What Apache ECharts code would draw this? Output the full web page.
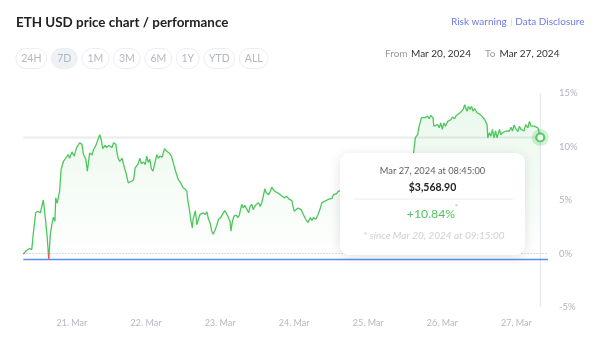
<!DOCTYPE html>
<html>
<head>
<meta charset="utf-8">
<script src="https://cdn.jsdelivr.net/npm/echarts@6/dist/echarts.min.js"></script>
<style>
html,body{margin:0;padding:0;background:#fff;}
#chart{width:606px;height:358px;}
</style>
</head>
<body>
<div id="chart"></div>
<script>
// ---- data ----
// hours since Mar 20, 2024 09:15 (local, UTC+1)
const hoursSinceStart = [
  0, 1, 2, 2.75, 3.25, 4, 4.75, 5.5, 6.5, 7.25,
  7.75, 8.25, 8.75, 9.25, 9.75, 10.25, 10.5, 11, 11.75, 12.25,
  13, 13.75, 14.5, 15, 15.75, 16.5, 17.25, 18.25, 19, 19.5,
  20.25, 20.75, 21.5, 22.25, 22.75, 23.5, 24, 24.75, 25.25, 25.75,
  26.5, 27, 27.75, 28.75, 29.25, 30, 30.25, 30.75, 31.25, 32,
  32.5, 33.25, 34, 34.5, 35, 35.75, 36.25, 36.75, 37.25, 37.75,
  38.25, 39, 39.5, 40, 40.5, 41, 41.5, 42, 42.75, 43.25,
  43.75, 44.25, 45, 45.75, 46.5, 47.25, 48, 48.75, 49.5, 50.25,
  51, 51.75, 52.5, 53, 53.25, 53.75, 54.25, 54.75, 55, 55.75,
  56.25, 56.75, 57.25, 57.75, 58.25, 59, 59.5, 60, 60.5, 61,
  61.5, 62, 62.75, 63.25, 64, 64.5, 65.25, 66, 66.5, 67,
  67.25, 67.75, 68.25, 69, 69.5, 70, 70.75, 71.25, 71.75, 72.5,
  73, 73.5, 74, 74.5, 75, 75.5, 76.25, 76.75, 77.25, 77.75,
  78.25, 78.75, 79.5, 80, 80.5, 81, 81.5, 82, 82.5, 83.25,
  83.75, 84.5, 85.25, 86.25, 87, 87.75, 88.25, 89, 90, 90.75,
  91.5, 92.25, 93, 93.5, 94, 94.75, 95.5, 96.25, 96.75, 97.25,
  97.75, 98.25, 98.75, 99.25, 100, 100.5, 101, 101.5, 102,
  103, 104, 105.5, 107, 108.5, 110, 111.5, 113, 114.5, 116,
  117.5, 119, 120.5, 122, 123.5, 125,
  126.25, 127, 127.75, 128.25, 129, 129.5, 130.25, 131, 131.5, 132,
  132.75, 133, 133.5, 134.25, 134.75, 135.25, 135.75, 136.25, 136.75, 137.5,
  138, 138.5, 139, 139.75, 140.25, 140.75, 141.5, 142, 142.5, 143,
  143.75, 144.25, 144.75, 145.25, 145.75, 146.25, 147, 147.5, 148, 148.5,
  149, 149.5, 150.25, 150.5, 151, 151.5, 152, 152.5, 153, 153.5,
  154.25, 154.75, 155.25, 155.75, 156.5, 157, 157.5, 158, 158.5, 159,
  159.5, 160.25, 160.75, 161.25, 161.75, 162.25, 162.75, 163.5, 164, 164.5,
  165, 165.5, 166, 166.75, 167.5
];
// performance in % since start
const changePct = [
  -0.05, 0.28, 0.47, 0.37, 1.9, 3.8, 3.95, 3.8, 5.0, 3.0,
  1.5, -0.56, 1.8, 2.7, 3.4, 3.0, 5.2, 4.7, 5.8, 7.85,
  8.6, 8.9, 9.25, 8.9, 9.5, 9.1, 9.9, 10.35, 10.2, 9.25,
  8.8, 7.7, 9.4, 9.2, 9.7, 10.1, 10.5, 11.1, 10.65, 9.8,
  10.1, 9.9, 10.1, 9.9, 10.35, 10.2, 9.6, 8.9, 8.6, 8.9,
  8.3, 7.55, 6.6, 6.45, 6.75, 6.9, 8.0, 8.15, 8.4, 8.9,
  8.4, 8.55, 8.3, 9.1, 8.5, 8.8, 7.9, 7.7, 8.6, 9.25,
  8.9, 9.1, 9.0, 9.8, 9.55, 9.4, 9.1, 8.3, 7.55, 6.9,
  6.6, 6.15, 6.0, 5.8, 5.05, 4.25, 3.2, 2.4, 3.2, 4.0,
  2.7, 3.2, 3.65, 3.5, 3.8, 3.65, 3.9, 3.2, 2.9, 2.15,
  1.8, 2.1, 2.7, 3.2, 3.35, 3.65, 4.0, 3.65, 3.5, 3.0,
  2.1, 3.0, 3.5, 3.6, 3.35, 3.6, 4.6, 4.25, 4.5, 4.1,
  3.8, 4.4, 4.6, 4.1, 4.4, 4.6, 4.75, 4.4, 4.75, 5.35,
  6.05, 5.65, 5.5, 5.8, 6.2, 6.0, 5.8, 5.9, 5.65, 5.5,
  5.45, 5.2, 5.35, 5.05, 4.95, 3.95, 4.1, 4.25, 4.1, 3.65,
  3.2, 2.9, 3.35, 3.1, 3.35, 3.2, 3.65, 4.25, 4.75, 4.6,
  4.9, 4.75, 5.05, 4.95, 5.15, 5.5, 5.35, 5.6, 5.8,
  5.9, 5.6, 6.2, 6.0, 6.5, 6.3, 6.8, 6.6, 7.0, 6.7,
  7.2, 7.0, 7.4, 7.1, 7.6, 7.9,
  8.9, 10.8, 11.1, 11.9, 12.7, 12.85, 12.7, 12.85, 12.6, 12.9,
  12.7, 11.9, 11.75, 12.05, 11.75, 12.2, 11.6, 12.2, 11.9, 12.35,
  12.2, 12.5, 12.75, 12.6, 12.9, 12.85, 13.15, 13.0, 13.45, 13.9,
  13.3, 13.75, 13.45, 13.75, 13.3, 13.55, 13.15, 13.3, 13.0, 13.15,
  12.7, 12.5, 12.05, 10.8, 11.3, 10.95, 11.6, 10.8, 11.45, 10.8,
  11.6, 11.1, 11.3, 11.2, 11.45, 11.6, 11.45, 11.8, 11.45, 12.0,
  11.7, 11.4, 11.9, 11.6, 11.75, 11.45, 12.05, 11.75, 12.35, 11.9,
  11.75, 11.9, 11.9, 11.75, 10.84
];
// axis in UTC: start = Mar 20 08:15 UTC (09:15 local)
const startHourUTC = 8.25;
const axisSpanHours = 170;
const dayTickHours = [24, 48, 72, 96, 120, 144, 168];
const dayTickLabels = ['21. Mar', '22. Mar', '23. Mar', '24. Mar', '25. Mar', '26. Mar', '27. Mar'];
const yTicks = [-5, 0, 5, 10, 15];
const rangeButtons = ['24H', '7D', '1M', '3M', '6M', '1Y', 'YTD', 'ALL'];
const selectedRange = '7D';
const titleText = 'ETH USD price chart / performance';
const fromDate = 'Mar 20, 2024';
const toDate = 'Mar 27, 2024';
const tipDate = 'Mar 27, 2024 at 08:45:00';
const tipPrice = '$3,568.90';
const tipChange = '+10.84%';
const tipSince = '* since Mar 20, 2024 at 09:15:00';

// ---- build ----
const n = Math.min(hoursSinceStart.length, changePct.length);
const seriesData = [];
for (let i = 0; i < n; i++) seriesData.push([startHourUTC + hoursSinceStart[i], changePct[i]]);
const last = seriesData[n - 1];
const minVal = Math.min.apply(null, changePct.slice(0, n));
const xMin = startHourUTC, xMax = startHourUTC + axisSpanHours;
const yMin = yTicks[0], yMax = yTicks[yTicks.length - 1];

const GREEN = '#4cc75c';
const RED = '#f05a5a';
const FONT = 'Lato';

// layout (not data)
const btnWidths = [31, 26, 27, 27, 27, 23, 31, 29];
const btnGap = 4.5;
const graphics = [];
let bx = 15.3;
rangeButtons.forEach((b, i) => {
  const w = btnWidths[i];
  graphics.push({
    type: 'rect', z: 100,
    shape: { x: bx + 0.5, y: 48.5, width: w, height: 20, r: 10 },
    style: { fill: b === selectedRange ? '#eef1f5' : '#fff', stroke: '#ebedf0', lineWidth: 1 }
  });
  graphics.push({
    type: 'text', z: 101, x: bx + w / 2 + 0.5, y: 58.8,
    style: { text: b, fill: '#b3b7c0', font: '10.5px ' + FONT, textAlign: 'center', textVerticalAlign: 'middle' }
  });
  bx += w + btnGap;
});

function txt(x, y, text, opts, z) {
  return {
    type: 'text', z: z || 110, x: x, y: y,
    style: Object.assign({ text: text, textVerticalAlign: 'middle' }, opts)
  };
}

graphics.push(txt(16, 22.5, titleText, { fill: '#222', font: 'bold 13.4px ' + FONT, textAlign: 'left' }));
graphics.push(txt(506.7, 21.7, 'Risk warning', { fill: '#6b7ae6', font: '10px ' + FONT, textAlign: 'right' }));
graphics.push(txt(511.8, 22.3, '|', { fill: '#c9c9d0', font: '8px ' + FONT, textAlign: 'center' }));
graphics.push(txt(584.5, 21.7, 'Data Disclosure', { fill: '#6b7ae6', font: '10px ' + FONT, textAlign: 'right' }));
graphics.push(txt(385, 54, 'From', { fill: '#9a9a9a', font: '10px ' + FONT, textAlign: 'left' }));
graphics.push(txt(411, 54, fromDate, { fill: '#333', font: '10px ' + FONT, textAlign: 'left' }));
graphics.push(txt(485, 54, 'To', { fill: '#9a9a9a', font: '10px ' + FONT, textAlign: 'left' }));
graphics.push(txt(499.5, 54, toDate, { fill: '#333', font: '10px ' + FONT, textAlign: 'left' }));

// tooltip box
graphics.push({
  type: 'rect', z: 120,
  shape: { x: 340, y: 153, width: 185, height: 102, r: 9 },
  style: { fill: '#fff', shadowBlur: 12, shadowColor: 'rgba(0,0,0,0.12)', shadowOffsetY: 2 }
});
graphics.push({
  type: 'line', z: 121,
  shape: { x1: 353, y1: 199, x2: 513, y2: 199 },
  style: { stroke: '#ececec', lineWidth: 1 }
});
graphics.push(txt(432.5, 171, tipDate, { fill: '#5d6068', font: '9.3px ' + FONT, textAlign: 'center' }, 122));
graphics.push(txt(432.5, 187.5, tipPrice, { fill: '#222', font: 'bold 10.5px ' + FONT, textAlign: 'center' }, 122));
graphics.push(txt(431, 214, tipChange, { fill: '#52c360', font: '12.3px ' + FONT, textAlign: 'center' }, 122));
graphics.push(txt(456.5, 207.5, '*', { fill: '#bbbbbb', font: '8px ' + FONT, textAlign: 'center' }, 122));
graphics.push(txt(434, 235.7, tipSince, { fill: '#cdd0d6', font: 'italic 10px ' + FONT, textAlign: 'center' }, 122));

function refLine(points, color, width, type, z) {
  return {
    type: 'line', data: points, showSymbol: false, symbol: 'none', silent: true,
    lineStyle: { color: color, width: width, type: type }, z: z
  };
}

const chart = echarts.init(document.getElementById('chart'), null, { renderer: 'canvas' });
chart.setOption({
  animation: false,
  textStyle: { fontFamily: FONT },
  grid: { left: 23.3, right: 58, top: 93, bottom: 51, containLabel: false },
  xAxis: {
    type: 'value',
    min: xMin,
    max: xMax,
    axisLine: { show: false },
    axisTick: { show: false },
    splitLine: { show: false },
    axisLabel: {
      customValues: dayTickHours,
      margin: 12,
      color: '#b5b8c1',
      fontSize: 9,
      fontFamily: FONT,
      formatter: function (v) {
        const idx = dayTickHours.indexOf(v);
        return idx >= 0 ? dayTickLabels[idx] : '';
      }
    }
  },
  yAxis: {
    type: 'value',
    position: 'right',
    min: yMin,
    max: yMax,
    interval: 5,
    axisLine: { show: false },
    axisTick: { show: false },
    splitLine: { show: false },
    axisLabel: { formatter: '{value}%', margin: 11, color: '#b1b4be', fontSize: 9.5, fontFamily: FONT }
  },
  series: [
    {
      id: 'perf',
      type: 'line',
      data: seriesData,
      showSymbol: false,
      symbol: 'none',
      lineStyle: { width: 1.3, color: GREEN },
      areaStyle: {
        color: new echarts.graphic.LinearGradient(0, 0, 0, 1, [
          { offset: 0, color: 'rgba(76,199,92,0.17)' },
          { offset: 1, color: 'rgba(76,199,92,0.0)' }
        ])
      },
      z: 3
    },
    refLine([[xMin, 0], [xMax, 0]], '#cfcfd4', 1, [1.5, 1.5], 2),
    refLine([[xMin, minVal], [xMax, minVal]], '#5b8cf0', 1.5, 'solid', 2),
    refLine([[xMin, last[1]], [last[0], last[1]]], '#ebebeb', 2, 'solid', 1),
    refLine([[last[0], yMin], [last[0], yMax]], '#e4e5ec', 1, 'solid', 1),
    {
      type: 'scatter',
      data: [last],
      symbolSize: 17,
      itemStyle: { color: 'rgba(76,199,92,0.3)' },
      silent: true,
      z: 4
    },
    {
      type: 'scatter',
      data: [last],
      symbolSize: 8,
      itemStyle: { color: '#fff', borderColor: '#3cbf4e', borderWidth: 2.2 },
      silent: true,
      z: 5
    }
  ],
  graphic: { elements: graphics }
});

// colour the part of the line below 0% red, using the axis scale
const zeroY = chart.convertToPixel({ yAxisIndex: 0 }, 0);
const H = chart.getHeight();
const off = zeroY / H;
chart.setOption({
  series: [{
    id: 'perf',
    lineStyle: {
      color: new echarts.graphic.LinearGradient(0, 0, 0, H, [
        { offset: 0, color: GREEN },
        { offset: off, color: GREEN },
        { offset: off, color: RED },
        { offset: 1, color: RED }
      ], true)
    }
  }]
});
</script>
</body>
</html>
